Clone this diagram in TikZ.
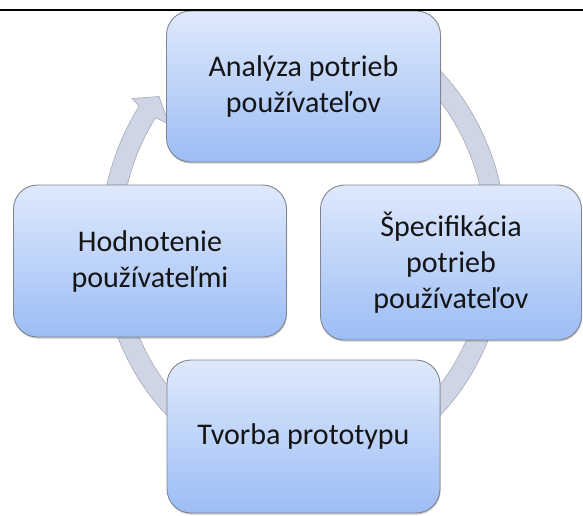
\documentclass[tikz,border=0pt]{standalone}
\usepackage{fontspec}
\setmainfont{Carlito}
\usetikzlibrary{shadows,calc}
\definecolor{ringfill}{RGB}{207,213,229}
\definecolor{ringdraw}{RGB}{165,170,182}
\definecolor{boxtop}{RGB}{223,233,252}
\definecolor{boxbot}{RGB}{156,189,245}
\definecolor{boxdraw}{RGB}{130,133,145}
\definecolor{txt}{RGB}{20,20,20}
\begin{document}
\begin{tikzpicture}[x=1pt,y=-1pt,
  stage/.style={draw=boxdraw, line width=0.9pt, rounded corners=24pt,
    top color=boxtop, bottom color=boxbot, align=center,
    font=\fontsize{30}{36}\selectfont, text=txt, inner sep=0pt,
    drop shadow={shadow xshift=0.6pt, shadow yshift=-1.6pt, opacity=0.3, fill=black!70}},
  ring/.style={fill=ringfill, draw=ringdraw, line width=0.6pt, line join=miter},
  rulebar/.style={line width=2pt, draw=black}]
\useasboundingbox (0,0) rectangle (583,515);

% cycle ring with arrow head
\coordinate (c) at (303.5,243);
\coordinate (ob) at (132,98.5);
\coordinate (tip) at (159,96.5);
\coordinate (ib) at (169,124);
\path[ring]
  ($(c)+(290:203 and 233)$) arc[start angle=290, end angle=576, x radius=203, y radius=233]
  -- (ob) -- (tip) -- (ib)
  -- ($(c)+(576:183 and 213)$) arc[start angle=576, end angle=290, x radius=183, y radius=213]
  -- cycle;

% stages
\node[stage, minimum width=274pt, minimum height=151pt] (analyza) at (303.5,86.5)
  {Analýza potrieb\\používateľov};
\node[stage, minimum width=261pt, minimum height=155pt] (spec) at (451,262.5)
  {Špecifikácia\\potrieb\\používateľov};
\node[stage, minimum width=273pt, minimum height=153pt] (tvorba) at (303.5,436.5)
  {Tvorba prototypu};
\node[stage, minimum width=273pt, minimum height=152pt] (hodn) at (150,261)
  {Hodnotenie\\používateľmi};

% top rule
\coordinate (rl) at (0,10);
\coordinate (rr) at (583,10);
\draw[rulebar] (rl) -- (rr);
\end{tikzpicture}
\end{document}
